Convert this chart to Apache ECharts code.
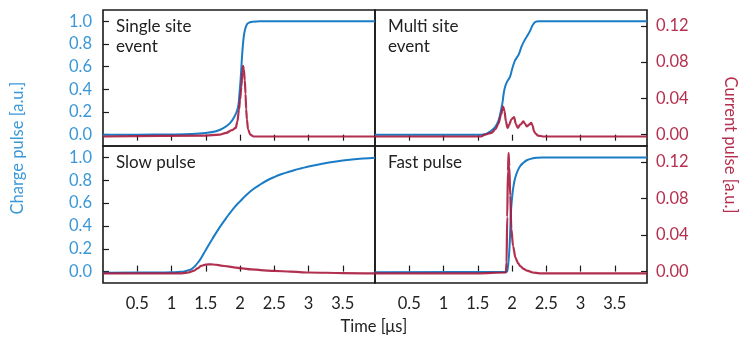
<!DOCTYPE html>
<html>
<head>
<meta charset="utf-8">
<script src="https://cdn.jsdelivr.net/npm/echarts@6/dist/echarts.min.js"></script>
<style>
  html, body { margin: 0; padding: 0; background: #fff; }
  #chart { width: 740px; height: 338px; }
</style>
</head>
<body>
<div id="chart"></div>
<script>
// 时间刻度 (μs)
const timeTicks = [0.5, 1, 1.5, 2, 2.5, 3, 3.5];
const chargeTicks = [0, 0.2, 0.4, 0.6, 0.8, 1.0];
const currentTicks = [0, 0.04, 0.08, 0.12];

// Single site event
const singleCharge = [[0, 0], [0.5, 0], [1.0, 0.002], [1.3, 0.006], [1.5, 0.015], [1.65, 0.03], [1.75, 0.055], [1.85, 0.1], [1.92, 0.16], [1.97, 0.24], [1.99, 0.35], [2.01, 0.5], [2.035, 0.74], [2.06, 0.89], [2.09, 0.96], [2.12, 0.985], [2.18, 0.997], [2.3, 1.0], [3.97, 1.0]];
const singleCurrent = [[0, -0.002], [1.5, -0.001], [1.7, 0.0], [1.8, 0.002], [1.88, 0.005], [1.937, 0.0074], [1.96, 0.014], [1.985, 0.0275], [2.0, 0.038], [2.02, 0.053], [2.035, 0.07], [2.045, 0.076], [2.055, 0.072], [2.07, 0.06], [2.08, 0.045], [2.09, 0.028], [2.10, 0.017], [2.117, 0.006], [2.15, 0.0], [2.2, -0.002], [3.97, -0.002]];

// Multi site event
const multiCharge = [[0, 0], [1.55, 0], [1.62, 0.006], [1.68, 0.028], [1.75, 0.065], [1.80, 0.12], [1.83, 0.19], [1.86, 0.28], [1.88, 0.37], [1.90, 0.425], [1.93, 0.47], [1.97, 0.51], [2.00, 0.575], [2.04, 0.65], [2.07, 0.68], [2.10, 0.71], [2.14, 0.78], [2.19, 0.84], [2.24, 0.89], [2.27, 0.925], [2.30, 0.965], [2.33, 0.99], [2.36, 0.998], [2.40, 1.0], [3.97, 1.0]];
const multiCurrent = [[0, -0.002], [1.55, -0.002], [1.6, 0.0], [1.7, 0.002], [1.76, 0.006], [1.80, 0.012], [1.84, 0.022], [1.87, 0.031], [1.89, 0.026], [1.91, 0.015], [1.935, 0.0074], [1.96, 0.011], [1.99, 0.017], [2.03, 0.0195], [2.055, 0.012], [2.085, 0.0074], [2.12, 0.011], [2.167, 0.0146], [2.19, 0.012], [2.215, 0.009], [2.25, 0.011], [2.28, 0.013], [2.30, 0.01], [2.32, 0.004], [2.34, 0.0015], [2.38, -0.001], [2.45, -0.002], [3.97, -0.002]];

// Slow pulse
const slowCharge = [[0, -0.01], [0.8, -0.008], [1.0, -0.006], [1.1, -0.003], [1.2, 0.004], [1.3, 0.025], [1.4, 0.09], [1.5, 0.19], [1.6, 0.29], [1.7, 0.385], [1.8, 0.47], [1.9, 0.55], [2.0, 0.615], [2.1, 0.675], [2.2, 0.725], [2.3, 0.765], [2.4, 0.8], [2.5, 0.828], [2.6, 0.852], [2.7, 0.872], [2.8, 0.89], [2.9, 0.905], [3.0, 0.92], [3.2, 0.945], [3.4, 0.965], [3.6, 0.98], [3.8, 0.99], [3.97, 0.997]];
const slowCurrent = [[0, -0.002], [1.15, -0.002], [1.25, -0.001], [1.33, 0.001], [1.38, 0.0035], [1.43, 0.0062], [1.5, 0.0076], [1.57, 0.008], [1.65, 0.0075], [1.72, 0.0066], [1.82, 0.0056], [1.91, 0.0047], [2.03, 0.0036], [2.16, 0.0025], [2.3, 0.0016], [2.5, 0.0007], [2.74, 0.0], [3.0, -0.001], [3.5, -0.0016], [3.97, -0.002]];

// Fast pulse
const fastCharge = [[0, -0.005], [1.92, -0.004], [1.935, 0.02], [1.95, 0.1], [1.964, 0.22], [1.975, 0.38], [1.984, 0.52], [1.995, 0.61], [2.008, 0.69], [2.025, 0.76], [2.046, 0.82], [2.08, 0.88], [2.12, 0.925], [2.17, 0.955], [2.216, 0.975], [2.29, 0.99], [2.36, 0.997], [2.45, 1.0], [3.97, 1.0]];
const fastCurrent = [[0, -0.002], [1.5, -0.002], [1.91, -0.001], [1.92, 0.01], [1.93, 0.06], [1.94, 0.11], [1.95, 0.13], [1.96, 0.115], [1.974, 0.083], [1.99, 0.047], [2.015, 0.028], [2.05, 0.015], [2.09, 0.009], [2.12, 0.006], [2.17, 0.003], [2.22, 0.001], [2.3, -0.001], [2.4, -0.002], [3.97, -0.002]];

const panelNames = ['Single site\nevent', 'Multi site\nevent', 'Slow pulse', 'Fast pulse'];
const chargeSets = [singleCharge, multiCharge, slowCharge, fastCharge];
const currentSets = [singleCurrent, multiCurrent, slowCurrent, fastCurrent];

const FONT = 'Lato, "Open Sans", sans-serif';
const blueLine = '#1b7cc6';
const blueText = '#3b98d8';
const redLine = '#a8183c';
const redText = '#b5304f';
const frame = '#1a1a1a';

const chart = echarts.init(document.getElementById('chart'));

const grids = [
    {left: 103, top: 10, width: 272, height: 136},
    {left: 375, top: 10, width: 272, height: 136},
    {left: 103, top: 146, width: 272, height: 137},
    {left: 375, top: 146, width: 272, height: 137}
].map(function (g) {
    return Object.assign({show: true, borderColor: frame, borderWidth: 1.6, backgroundColor: 'transparent'}, g);
});

const xAxes = [];
const yAxes = [];
const series = [];
const graphics = [];

for (let i = 0; i < 4; i++) {
    const isTop = i < 2;
    const isLeft = i % 2 === 0;
    xAxes.push({
        type: 'value',
        gridIndex: i,
        min: 0,
        max: 3.97,
        position: isTop ? 'top' : 'bottom',
        axisLine: {show: false},
        splitLine: {show: false},
        axisTick: {
            show: true,
            inside: true,
            length: 6,
            customValues: timeTicks,
            lineStyle: {color: frame, width: 1.2}
        },
        axisLabel: {
            show: !isTop,
            customValues: timeTicks,
            margin: 12,
            fontSize: 16.5,
            fontFamily: FONT,
            color: '#222'
        }
    });
    // 左轴：电荷
    yAxes.push({
        type: 'value',
        gridIndex: i,
        position: 'left',
        min: -0.1,
        max: 1.1,
        show: isLeft,
        axisLine: {show: false},
        splitLine: {show: false},
        axisTick: {
            inside: true,
            length: 6,
            customValues: chargeTicks,
            lineStyle: {color: frame, width: 1.2}
        },
        axisLabel: {
            customValues: chargeTicks,
            margin: 11,
            fontSize: 16.5,
            fontFamily: FONT,
            color: blueText,
            formatter: function (v) { return v.toFixed(1); }
        }
    });
    // 右轴：电流
    yAxes.push({
        type: 'value',
        gridIndex: i,
        position: 'right',
        min: -0.0125,
        max: 0.1375,
        show: !isLeft,
        axisLine: {show: false},
        splitLine: {show: false},
        axisTick: {
            inside: true,
            length: 6,
            customValues: currentTicks,
            lineStyle: {color: frame, width: 1.2}
        },
        axisLabel: {
            customValues: currentTicks,
            margin: 9,
            fontSize: 16.5,
            fontFamily: FONT,
            color: redText,
            formatter: function (v) { return v.toFixed(2); }
        }
    });
    series.push({
        type: 'line',
        xAxisIndex: i,
        yAxisIndex: 2 * i,
        data: chargeSets[i],
        showSymbol: false,
        smooth: 0.4,
        lineStyle: {color: blueLine, width: 2},
        z: 2
    });
    series.push({
        type: 'line',
        xAxisIndex: i,
        yAxisIndex: 2 * i + 1,
        data: currentSets[i],
        showSymbol: false,
        smooth: 0.3,
        smoothMonotone: 'x',
        lineStyle: {color: redLine, width: 2.2, opacity: 0.9},
        z: 3
    });
    graphics.push({
        type: 'text',
        left: grids[i].left + 13,
        top: grids[i].top + 7,
        style: {
            text: panelNames[i],
            font: '17px ' + FONT,
            fill: '#222',
            lineHeight: 20
        }
    });
}

graphics.push({
    type: 'text',
    x: 18,
    y: 148,
    rotation: Math.PI / 2,
    style: {text: 'Charge pulse [a.u.]', font: '16.5px ' + FONT, fill: blueText, align: 'center', verticalAlign: 'middle'}
});
graphics.push({
    type: 'text',
    x: 730,
    y: 145,
    rotation: -Math.PI / 2,
    style: {text: 'Current pulse [a.u.]', font: '16.5px ' + FONT, fill: redText, align: 'center', verticalAlign: 'middle'}
});
graphics.push({
    type: 'text',
    x: 374,
    y: 327,
    style: {text: 'Time [μs]', font: '16.5px ' + FONT, fill: '#222', align: 'center', verticalAlign: 'middle'}
});

chart.setOption({
    animation: false,
    backgroundColor: '#fff',
    grid: grids,
    xAxis: xAxes,
    yAxis: yAxes,
    series: series,
    graphic: graphics
});

window.onresize = function () {
    chart.resize();
};
</script>
</body>
</html>
